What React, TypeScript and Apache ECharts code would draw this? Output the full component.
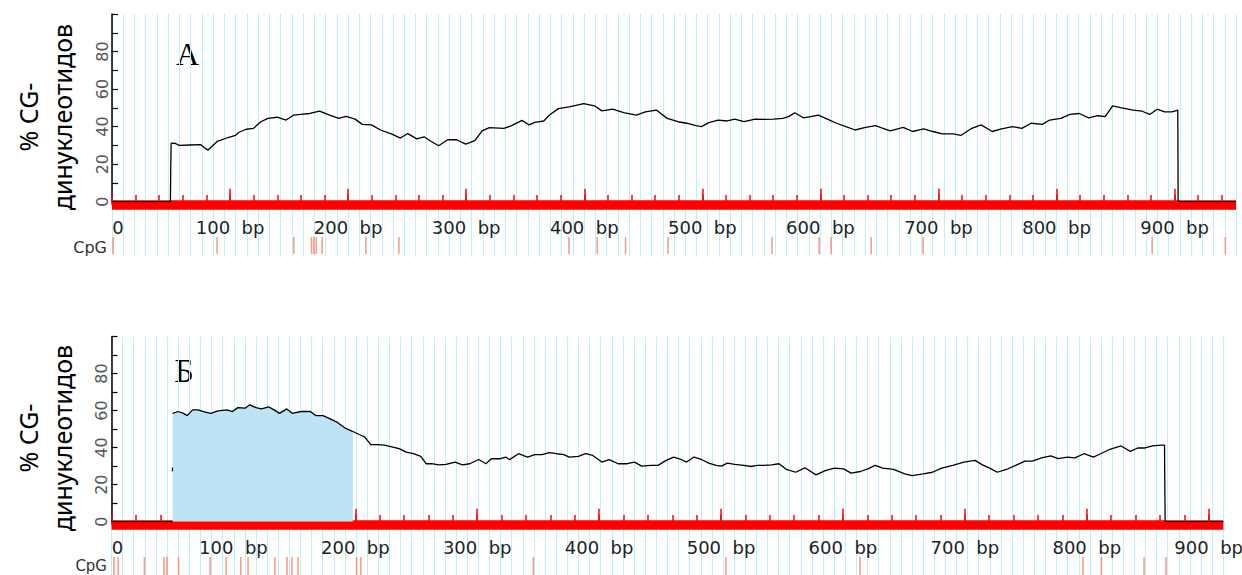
import React, { useEffect, useRef } from "react";
import * as echarts from "echarts";

// Fragment lengths, bp
const LENGTH_A = 952;
const LENGTH_B = 912;

// CG-dinucleotide content (%) along fragment A: [position bp, %]
const CURVE_A: (number | string)[][] = [
  [0, 0], [49.5, 0], [49.7, 16], [50.1, 31.2], [53.8, 31], [56.9, 30], [66, 30.2], [75.3, 30.4],
  [78, 28.9], [81.4, 27.5], [89.1, 32.1], [98.3, 34.2], [104.5, 35.3], [107.6, 37], [113.7, 38.6],
  [119.9, 39.1], [126, 42.6], [132.1, 44.4], [139.8, 45], [147.5, 43.5], [153.7, 46.1], [159.8, 46.5],
  [167.5, 47], [175.8, 48.2], [184.4, 46.1], [192, 44.4], [198.2, 45.4], [205.9, 44], [212, 41.2],
  [219.7, 40.9], [227.4, 38.2], [236.6, 36.1], [244.3, 33.9], [250.5, 36.3], [258.1, 33.5],
  [264.3, 34.6], [270.4, 32.1], [276.6, 29.8], [284.3, 33], [291.9, 33], [299.6, 30.7], [307.3, 32.5],
  [313.5, 37.7], [319.6, 39.5], [331.9, 39.1], [338, 40.4], [347.3, 43.3], [353.4, 40.9], [358, 42.3],
  [365.7, 43], [370.3, 46.1], [378, 49.6], [387.2, 50.5], [399.5, 52.3], [408.7, 51.1], [414.9, 48.4],
  [424.1, 49.3], [433.3, 47.5], [444.1, 46.1], [451.8, 47.9], [461, 48.8], [470.2, 44.4], [479.4, 42.6],
  [486.7, 41.8], [494.5, 40.5], [499.2, 40], [505.5, 42.1], [513.3, 43.5], [521.2, 43], [527.5, 44],
  [535.3, 42.6], [544.7, 44], [552.6, 43.9], [560.4, 44], [568.2, 44.4], [573, 45.3], [578.3, 47.4],
  [585.5, 44.7], [591.8, 45.3], [598.1, 46.1], [605.9, 44], [613.7, 41.8], [621.6, 40], [629.4, 38.2],
  [637.3, 39.5], [646.7, 40.5], [653, 39.1], [659.2, 37.7], [670.2, 39.6], [678.1, 37.4], [687.5, 38.8],
  [695.3, 37.4], [703.2, 36.1], [712.6, 36.1], [718.9, 35.3], [728.3, 39.1], [736.1, 40.9], [745.5, 37.4],
  [753.4, 38.8], [762.8, 40], [770.6, 39.1], [778.5, 41.8], [787.9, 41.2], [794.2, 43.5], [803.6, 44.4],
  [811.4, 46.5], [819.3, 47], [827.1, 44.7], [835, 45.8], [841.2, 45.3], [847.5, 51], [855.3, 50],
  [864.8, 48.8], [872.6, 48.2], [878.9, 46.5], [885.2, 49.3], [891.5, 47.9], [897.8, 47.9], [902.7, 48.8],
  [903, 0], [952, 0],
];

// CG-dinucleotide content (%) along fragment B
const CURVE_B: (number | string)[][] = [
  [0, 0], [49.8, 0], [50, "-"], [50, 27.2], [50, 29.3], [50.1, "-"],
  [50.2, 58.5], [54.6, 59.5], [59.1, 58.5], [62.1, 57.3], [66.5, 60.4], [71, 60.4], [75.4, 59.5],
  [81.4, 58.5], [87.3, 59.8], [94.7, 60.4], [99.2, 59.5], [103.6, 61.6], [109.6, 61.3], [113.4, 63.1],
  [118.5, 61.6], [123, 60.9], [128.9, 62], [133.4, 60.4], [137.8, 58.5], [143.8, 60.9], [148.2, 58.5],
  [155.6, 59.5], [163.1, 59.5], [167.5, 57.3], [173.5, 57.3], [179.4, 55.5], [185.3, 53.6], [191.3, 50.7],
  [197.2, 48.9], [198, 48.7], [203.2, 47.1], [207.6, 45.8], [212.7, 41.6], [218, 41.6], [224, 41.3],
  [229.9, 40.4], [235.9, 39.5], [241.8, 37.6], [247.7, 36.7], [253.7, 35.3], [258.1, 31.3], [262.6, 31.3],
  [268.5, 30.7], [274.5, 30.9], [281.9, 32.2], [287.8, 30.7], [293.8, 31.3], [301.2, 33.6], [307.1, 31.3],
  [311.6, 34], [319, 34], [323.5, 34.9], [326.5, 33.5], [333.9, 36.7], [341.3, 34.9], [347.3, 36.2],
  [353.2, 36.2], [359.1, 37.3], [365.1, 36.7], [371, 36.2], [375.5, 34.9], [382.9, 35.3], [388.9, 36.7],
  [394.8, 35.8], [402.2, 32.2], [408.2, 33.5], [415.6, 31.3], [423, 31.3], [429, 32.2], [434.9, 30],
  [442.3, 30.4], [448.3, 30.4], [455, 33.1], [461.1, 34.9], [467.2, 33.6], [471.7, 32.2], [477.8, 34.9],
  [483.9, 33.6], [489.9, 31.6], [496, 30.4], [500.5, 30], [505.1, 31.6], [511.2, 30.9], [518.7, 30.4],
  [524.8, 29.8], [529.4, 30.4], [535.4, 30.4], [541.5, 30.7], [547.6, 31.3], [553.6, 28.2], [561.2, 26.7],
  [568.8, 29.1], [577.9, 25.3], [585.5, 27.6], [593, 28.9], [600.6, 28.5], [606.7, 26.2], [614.3, 27.1],
  [620.4, 28.5], [626.4, 30.4], [632.5, 28.9], [641.6, 28.2], [650.7, 25.8], [656.7, 24.9], [665.9, 25.8],
  [673.4, 26.7], [681, 28.9], [690.1, 30.4], [699.2, 32.2], [708.3, 33.1], [714.4, 30.7], [720.4, 28.9],
  [726.5, 26.7], [734.1, 28.2], [741.7, 30.4], [749.3, 32.7], [755.3, 32.7], [762.9, 34.5], [770.5, 35.5],
  [776.5, 34], [784.1, 34.9], [790.2, 34.5], [797.8, 36.7], [805.4, 34.9], [811.4, 36.7], [819, 39.1],
  [828.1, 40.9], [835.7, 38], [841.8, 39.8], [847.8, 39.8], [853.9, 40.9], [861.5, 41.3], [863.8, 41.3],
  [864, 21], [864.3, 0], [912, 0],
];

// Shaded CpG island on fragment B, bp
const ISLAND_B: [number, number] = [50.2, 198];

// CpG site positions, bp
const CPG_A = [1, 89, 154, 169, 171, 173, 178, 215, 243, 387, 411, 435, 471, 559, 599, 609, 643, 687, 881, 943];
const CPG_B = [2, 5.5, 27, 43, 45.5, 55, 81, 94, 106, 112, 134, 144, 148, 153, 201, 204.5, 346, 504, 614, 797, 812, 847, 865];

// Axis ticks
const X_LABELS = [0, 100, 200, 300, 400, 500, 600, 700, 800, 900];
const X_MINOR_STEP = 20;
const Y_LABELS = [0, 20, 40, 60, 80];
const GRIDLINE_DIVISIONS = 100;

const RED = "#ff0000";
const GRIDLINE = "#bcf0fb";
const ISLAND_FILL = "#bde4f4";
const CPG_COLOR = "#f7866a";
const SANS = "DejaVu Sans";

type Panel = {
  left: number; width: number; top: number; plotH: number; bgH: number;
  cpgTop: number; cpgH: number; length: number;
  curve: (number | string)[][]; cpg: number[]; island?: [number, number];
};

const PANELS: Panel[] = [
  { left: 112, width: 1124, top: 14, plotH: 187.7, bgH: 243, cpgTop: 237, cpgH: 17, length: LENGTH_A, curve: CURVE_A, cpg: CPG_A },
  { left: 111.5, width: 1111.8, top: 336.5, plotH: 185.2, bgH: 238.5, cpgTop: 557, cpgH: 18, length: LENGTH_B, curve: CURVE_B, cpg: CPG_B, island: ISLAND_B },
];

function buildOption() {
  const grid: any[] = [];
  const xAxis: any[] = [];
  const yAxis: any[] = [];
  const series: any[] = [];

  PANELS.forEach((p) => {
    const g = grid.length;
    const xi = xAxis.length;
    const yi = yAxis.length;
    grid.push({ left: p.left, top: p.top, width: p.width, height: p.bgH, outerBoundsMode: "none" });
    grid.push({ left: p.left, top: p.top, width: p.width, height: p.plotH, outerBoundsMode: "none" });
    grid.push({ left: p.left, top: p.cpgTop, width: p.width, height: p.cpgH, outerBoundsMode: "none" });

    const minor: number[] = [];
    for (let v = 0; v < p.length; v += X_MINOR_STEP) minor.push(v);

    // background vertical rulings
    xAxis.push({
      gridIndex: g, type: "value", min: 0, max: GRIDLINE_DIVISIONS, interval: 1, z: 0,
      axisLine: { show: false }, axisTick: { show: false }, axisLabel: { show: false },
      splitLine: { show: true, lineStyle: { color: GRIDLINE, width: 1 } },
    });
    // sequence axis: thick red bar, minor ticks, labels
    xAxis.push({
      gridIndex: g + 1, type: "value", min: 0, max: p.length, position: "bottom", offset: 3.2, z: 1,
      axisLine: { show: true, onZero: false, lineStyle: { color: RED, width: 9.5, cap: "butt" } },
      axisTick: { show: true, inside: true, length: 10, customValues: minor, lineStyle: { color: RED, width: 1.5 } },
      axisLabel: {
        show: true, customValues: X_LABELS, margin: 14, color: "#222", fontFamily: SANS, fontSize: 18,
        formatter: (v: number) => (v === 0 ? "{z|0}" : `${v}\u00a0\u00a0bp`),
        rich: { z: { padding: [0, 0, 0, 12], color: "#222", fontFamily: SANS, fontSize: 18 } },
      },
      splitLine: { show: false },
    });
    // taller ticks every 100 bp
    xAxis.push({
      gridIndex: g + 1, type: "value", min: 0, max: p.length, position: "bottom", offset: 3.2, z: 1,
      axisLine: { show: false },
      axisTick: { show: true, inside: true, length: 13, customValues: X_LABELS.filter((v) => v > 0), lineStyle: { color: RED, width: 1.5 } },
      axisLabel: { show: false }, splitLine: { show: false },
    });
    // CpG row
    xAxis.push({ gridIndex: g + 2, type: "value", min: 0, max: p.length, show: false });

    yAxis.push({ gridIndex: g, type: "value", min: 0, max: 1, show: false });
    yAxis.push({
      gridIndex: g + 1, type: "value", min: 0, max: 100, interval: 10, z: 1,
      axisLine: { show: true, onZero: false, lineStyle: { color: "#000", width: 1.5 } },
      axisTick: { show: true, inside: true, length: 6, lineStyle: { color: "#000", width: 1.2 } },
      axisLabel: {
        rotate: 90, margin: 2, color: "#555", fontFamily: SANS, fontSize: 16,
        formatter: (v: number) => (Y_LABELS.includes(v) ? String(v) : ""),
      },
      splitLine: { show: false },
    });
    yAxis.push({ gridIndex: g + 2, type: "value", min: 0, max: 1, show: false });

    if (p.island) {
      const [a, b] = p.island;
      const fill = p.curve.filter((d) => typeof d[1] === "number" && (d[0] as number) >= a && (d[0] as number) <= b);
      series.push({
        type: "line", xAxisIndex: xi + 1, yAxisIndex: yi + 1, data: fill, symbol: "none", silent: true, z: 2,
        lineStyle: { width: 0 }, areaStyle: { color: ISLAND_FILL, opacity: 1 },
      });
    }
    series.push({
      type: "line", xAxisIndex: xi + 1, yAxisIndex: yi + 1, data: p.curve, symbol: "none", silent: true, z: 3,
      connectNulls: false, lineStyle: { color: "#000", width: 1.3 },
    });
    series.push({
      type: "scatter", xAxisIndex: xi + 3, yAxisIndex: yi + 2, data: p.cpg.map((v) => [v, 0.5]),
      symbol: "rect", symbolSize: [1.6, p.cpgH], silent: true, z: 2, itemStyle: { color: CPG_COLOR },
    });
  });

  const title = "% CG-\nдинуклеотидов";
  const graphic = [
    { type: "text", x: 45, y: 117, rotation: Math.PI / 2, style: { text: title, fontSize: 25, fontFamily: "Noto Sans", lineHeight: 34, align: "center", verticalAlign: "middle", fill: "#000" } },
    { type: "text", x: 45, y: 438, rotation: Math.PI / 2, style: { text: title, fontSize: 25, fontFamily: "Noto Sans", lineHeight: 34, align: "center", verticalAlign: "middle", fill: "#000" } },
    { type: "text", x: 187.5, y: 53.7, style: { text: "А", fontSize: 32, fontFamily: "Liberation Serif", align: "center", verticalAlign: "middle", fill: "#000" } },
    { type: "text", x: 184, y: 370.5, style: { text: "Б", fontSize: 34, fontFamily: "Liberation Serif", align: "center", verticalAlign: "middle", fill: "#000" } },
    { type: "text", x: 107, y: 247, style: { text: "CpG", fontSize: 16, fontFamily: SANS, align: "right", verticalAlign: "middle", fill: "#333" } },
    { type: "text", x: 107, y: 565.5, style: { text: "CpG", fontSize: 15, fontFamily: SANS, align: "right", verticalAlign: "middle", fill: "#333" } },
  ];

  return { animation: false, backgroundColor: "#ffffff", grid, xAxis, yAxis, series, graphic };
}

export default function App() {
  const ref = useRef<HTMLDivElement>(null);
  useEffect(() => {
    if (!ref.current) return;
    const chart = echarts.init(ref.current, undefined, { renderer: "svg" });
    chart.setOption(buildOption() as any);
    return () => chart.dispose();
  }, []);
  return <div ref={ref} style={{ position: "absolute", left: 0, top: 0, width: 1242, height: 575 }} />;
}
